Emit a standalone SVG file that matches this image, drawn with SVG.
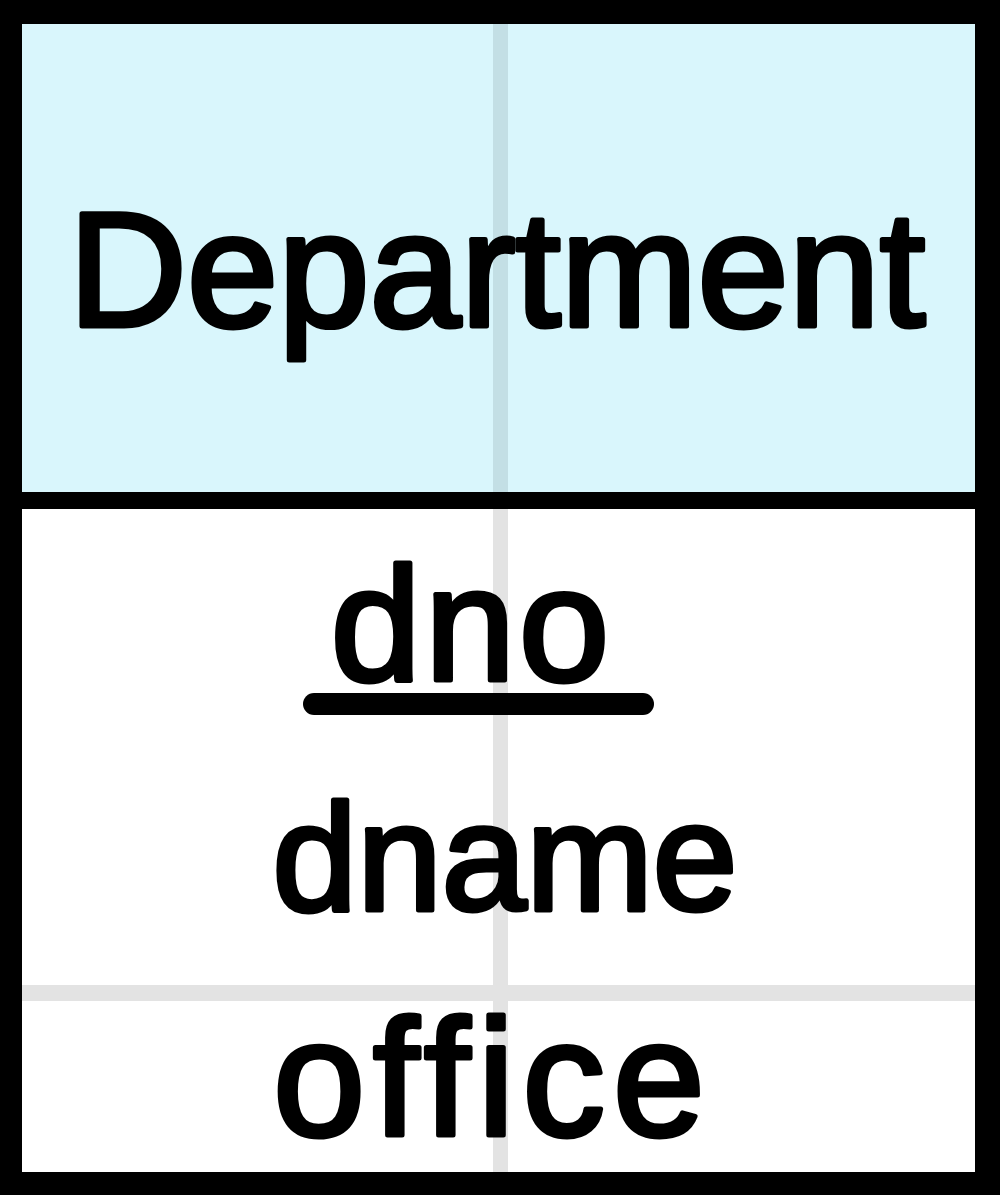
<svg xmlns="http://www.w3.org/2000/svg" width="1000" height="1195" viewBox="0 0 1000 1195">
<style>
.t{font-family:"Liberation Sans","DejaVu Sans",sans-serif;font-weight:normal;fill:#000;stroke:#000;stroke-width:5;stroke-linejoin:round;stroke-linecap:round;text-anchor:middle}
</style>
<g id="entity-department">
<rect x="0" y="0" width="1000" height="1195" fill="#000"/>
<rect x="22" y="24" width="953" height="468" fill="#d9f6fc"/>
<rect x="22" y="509" width="953" height="663" fill="#fff"/>
<rect x="493" y="24" width="15" height="468" fill="#c3dfe5"/>
<rect x="493" y="509" width="15" height="663" fill="#e3e3e3"/>
<rect x="22" y="985" width="953" height="16" fill="#e3e3e3"/>
<rect x="493" y="985" width="15" height="16" fill="#e3e3e3"/>
<text class="t" x="497" y="326" font-size="164">Department</text>
</g>
<g id="attr-dno">
<text class="t" x="472" y="680" font-size="162" letter-spacing="4">dno</text>
<line x1="314" y1="704" x2="643" y2="704" stroke="#000" stroke-width="22" stroke-linecap="round"/>
</g>
<g id="attr-dname"><text class="t" x="505" y="910" font-size="152">dname</text></g>
<g id="attr-office"><text class="t" x="493" y="1135" font-size="165" letter-spacing="8">office</text></g>
<g id="connectors"/>
</svg>
